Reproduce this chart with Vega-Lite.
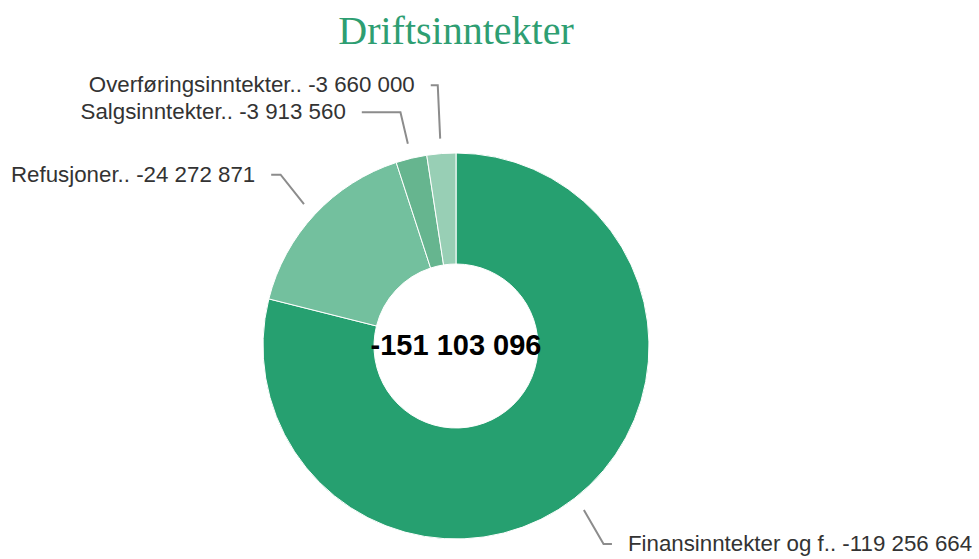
{
  "$schema": "https://vega.github.io/schema/vega-lite/v6.json",
  "width": 600,
  "height": 426,
  "autosize": "none",
  "padding": {"left": 156, "top": 133, "right": 223, "bottom": 0},
  "background": "white",
  "title": {
    "text": "Driftsinntekter",
    "font": "Liberation Serif",
    "fontSize": 40,
    "fontWeight": "normal",
    "color": "#2e9e72",
    "anchor": "middle",
    "baseline": "alphabetic",
    "offset": -10
  },
  "config": {
    "view": {"stroke": null},
    "locale": {
      "number": {"decimal": ",", "thousands": " ", "grouping": [3], "currency": ["", " kr"], "minus": "-"}
    }
  },
  "data": {
    "values": [
      {"i": 0, "name": "Finansinntekter og f..", "v": -119256664},
      {"i": 1, "name": "Refusjoner..", "v": -24272871},
      {"i": 2, "name": "Salgsinntekter..", "v": -3913560},
      {"i": 3, "name": "Overføringsinntekter..", "v": -3660000}
    ]
  },
  "transform": [
    {"calculate": "abs(datum.v)", "as": "amt"},
    {"joinaggregate": [{"op": "sum", "field": "amt", "as": "tot"}]},
    {"window": [{"op": "sum", "field": "amt", "as": "cum"}], "sort": [{"field": "i"}], "frame": [null, 0]},
    {"calculate": "2*PI*(datum.cum - datum.amt/2)/datum.tot", "as": "mid"},
    {"calculate": "208*sin(datum.mid)", "as": "ax"},
    {"calculate": "-208*cos(datum.mid)", "as": "ay"},
    {"calculate": "240*sin(datum.mid)", "as": "bx"},
    {"calculate": "-251*cos(datum.mid)", "as": "ny"},
    {"calculate": "datum.bx < 0 ? 'L' : 'R'", "as": "side"},
    {"calculate": "datum.side == 'L' ? -1 : 1", "as": "sgn"},
    {"window": [{"op": "row_number", "as": "ru"}], "groupby": ["side"], "sort": [{"field": "ny", "order": "descending"}]},
    {"calculate": "datum.ny + 27*(datum.ru-1)", "as": "t1"},
    {"window": [{"op": "min", "field": "t1", "as": "m1"}], "groupby": ["side"], "sort": [{"field": "ny", "order": "descending"}], "frame": [null, 0]},
    {"calculate": "datum.m1 - 27*(datum.ru-1)", "as": "up"},
    {"window": [{"op": "row_number", "as": "rd"}], "groupby": ["side"], "sort": [{"field": "ny", "order": "ascending"}]},
    {"calculate": "datum.ny - 27*(datum.rd-1)", "as": "t2"},
    {"window": [{"op": "max", "field": "t2", "as": "m2"}], "groupby": ["side"], "sort": [{"field": "ny", "order": "ascending"}], "frame": [null, 0]},
    {"calculate": "datum.m2 + 27*(datum.rd-1)", "as": "down"},
    {"calculate": "(datum.up + datum.down)/2", "as": "ly"},
    {"calculate": "datum.sgn*max(sqrt(max(252*252 - datum.ly*datum.ly, 0)), abs(datum.bx) + 7)", "as": "cx"},
    {"calculate": "datum.cx + 16*datum.sgn", "as": "tx"},
    {"calculate": "datum.name + ' ' + format(datum.v, ',')", "as": "label"}
  ],
  "layer": [
    {
      "mark": {"type": "arc", "outerRadius": 193, "innerRadius": 82, "stroke": "white", "strokeWidth": 1},
      "encoding": {
        "theta": {"field": "amt", "type": "quantitative", "stack": true},
        "order": {"field": "i", "type": "quantitative"},
        "color": {
          "field": "name",
          "type": "nominal",
          "scale": {
            "domain": ["Finansinntekter og f..", "Refusjoner..", "Salgsinntekter..", "Overføringsinntekter.."],
            "range": ["#26a070", "#73c09e", "#66b58f", "#98cfb5"]
          },
          "legend": null
        }
      }
    },
    {
      "transform": [
        {"calculate": "[datum.ax, datum.bx, datum.cx]", "as": "pxs"},
        {"calculate": "[datum.ay, datum.ly, datum.ly]", "as": "pys"},
        {"calculate": "[0, 1, 2]", "as": "k"},
        {"flatten": ["pxs", "pys", "k"]}
      ],
      "mark": {"type": "line", "color": "#8c8c8c", "strokeWidth": 2},
      "encoding": {
        "x": {"field": "pxs", "type": "quantitative", "scale": {"domain": [-300, 300], "nice": false, "zero": false}, "axis": null},
        "y": {"field": "pys", "type": "quantitative", "scale": {"domain": [-213, 213], "nice": false, "zero": false, "reverse": true}, "axis": null},
        "detail": {"field": "name"},
        "order": {"field": "k", "type": "quantitative"}
      }
    },
    {
      "transform": [{"filter": "datum.side == 'L'"}],
      "mark": {"type": "text", "align": "right", "baseline": "middle", "font": "Liberation Sans", "fontSize": 22.3, "color": "#333333"},
      "encoding": {
        "x": {"field": "tx", "type": "quantitative", "scale": {"domain": [-300, 300], "nice": false, "zero": false}, "axis": null},
        "y": {"field": "ly", "type": "quantitative", "scale": {"domain": [-213, 213], "nice": false, "zero": false, "reverse": true}, "axis": null},
        "text": {"field": "label"}
      }
    },
    {
      "transform": [{"filter": "datum.side == 'R'"}],
      "mark": {"type": "text", "align": "left", "baseline": "middle", "font": "Liberation Sans", "fontSize": 22.3, "color": "#333333"},
      "encoding": {
        "x": {"field": "tx", "type": "quantitative", "scale": {"domain": [-300, 300], "nice": false, "zero": false}, "axis": null},
        "y": {"field": "ly", "type": "quantitative", "scale": {"domain": [-213, 213], "nice": false, "zero": false, "reverse": true}, "axis": null},
        "text": {"field": "label"}
      }
    },
    {
      "data": {"values": [{"total": -151103096}]},
      "transform": [{"calculate": "format(datum.total, ',')", "as": "tlabel"}],
      "mark": {"type": "text", "align": "center", "baseline": "middle", "font": "Liberation Sans", "fontSize": 29, "fontWeight": "bold", "color": "#000000"},
      "encoding": {
        "x": {"datum": 0, "type": "quantitative", "scale": {"domain": [-300, 300], "nice": false, "zero": false}, "axis": null},
        "y": {"datum": 0, "type": "quantitative", "scale": {"domain": [-213, 213], "nice": false, "zero": false, "reverse": true}, "axis": null},
        "text": {"field": "tlabel"}
      }
    }
  ]
}
